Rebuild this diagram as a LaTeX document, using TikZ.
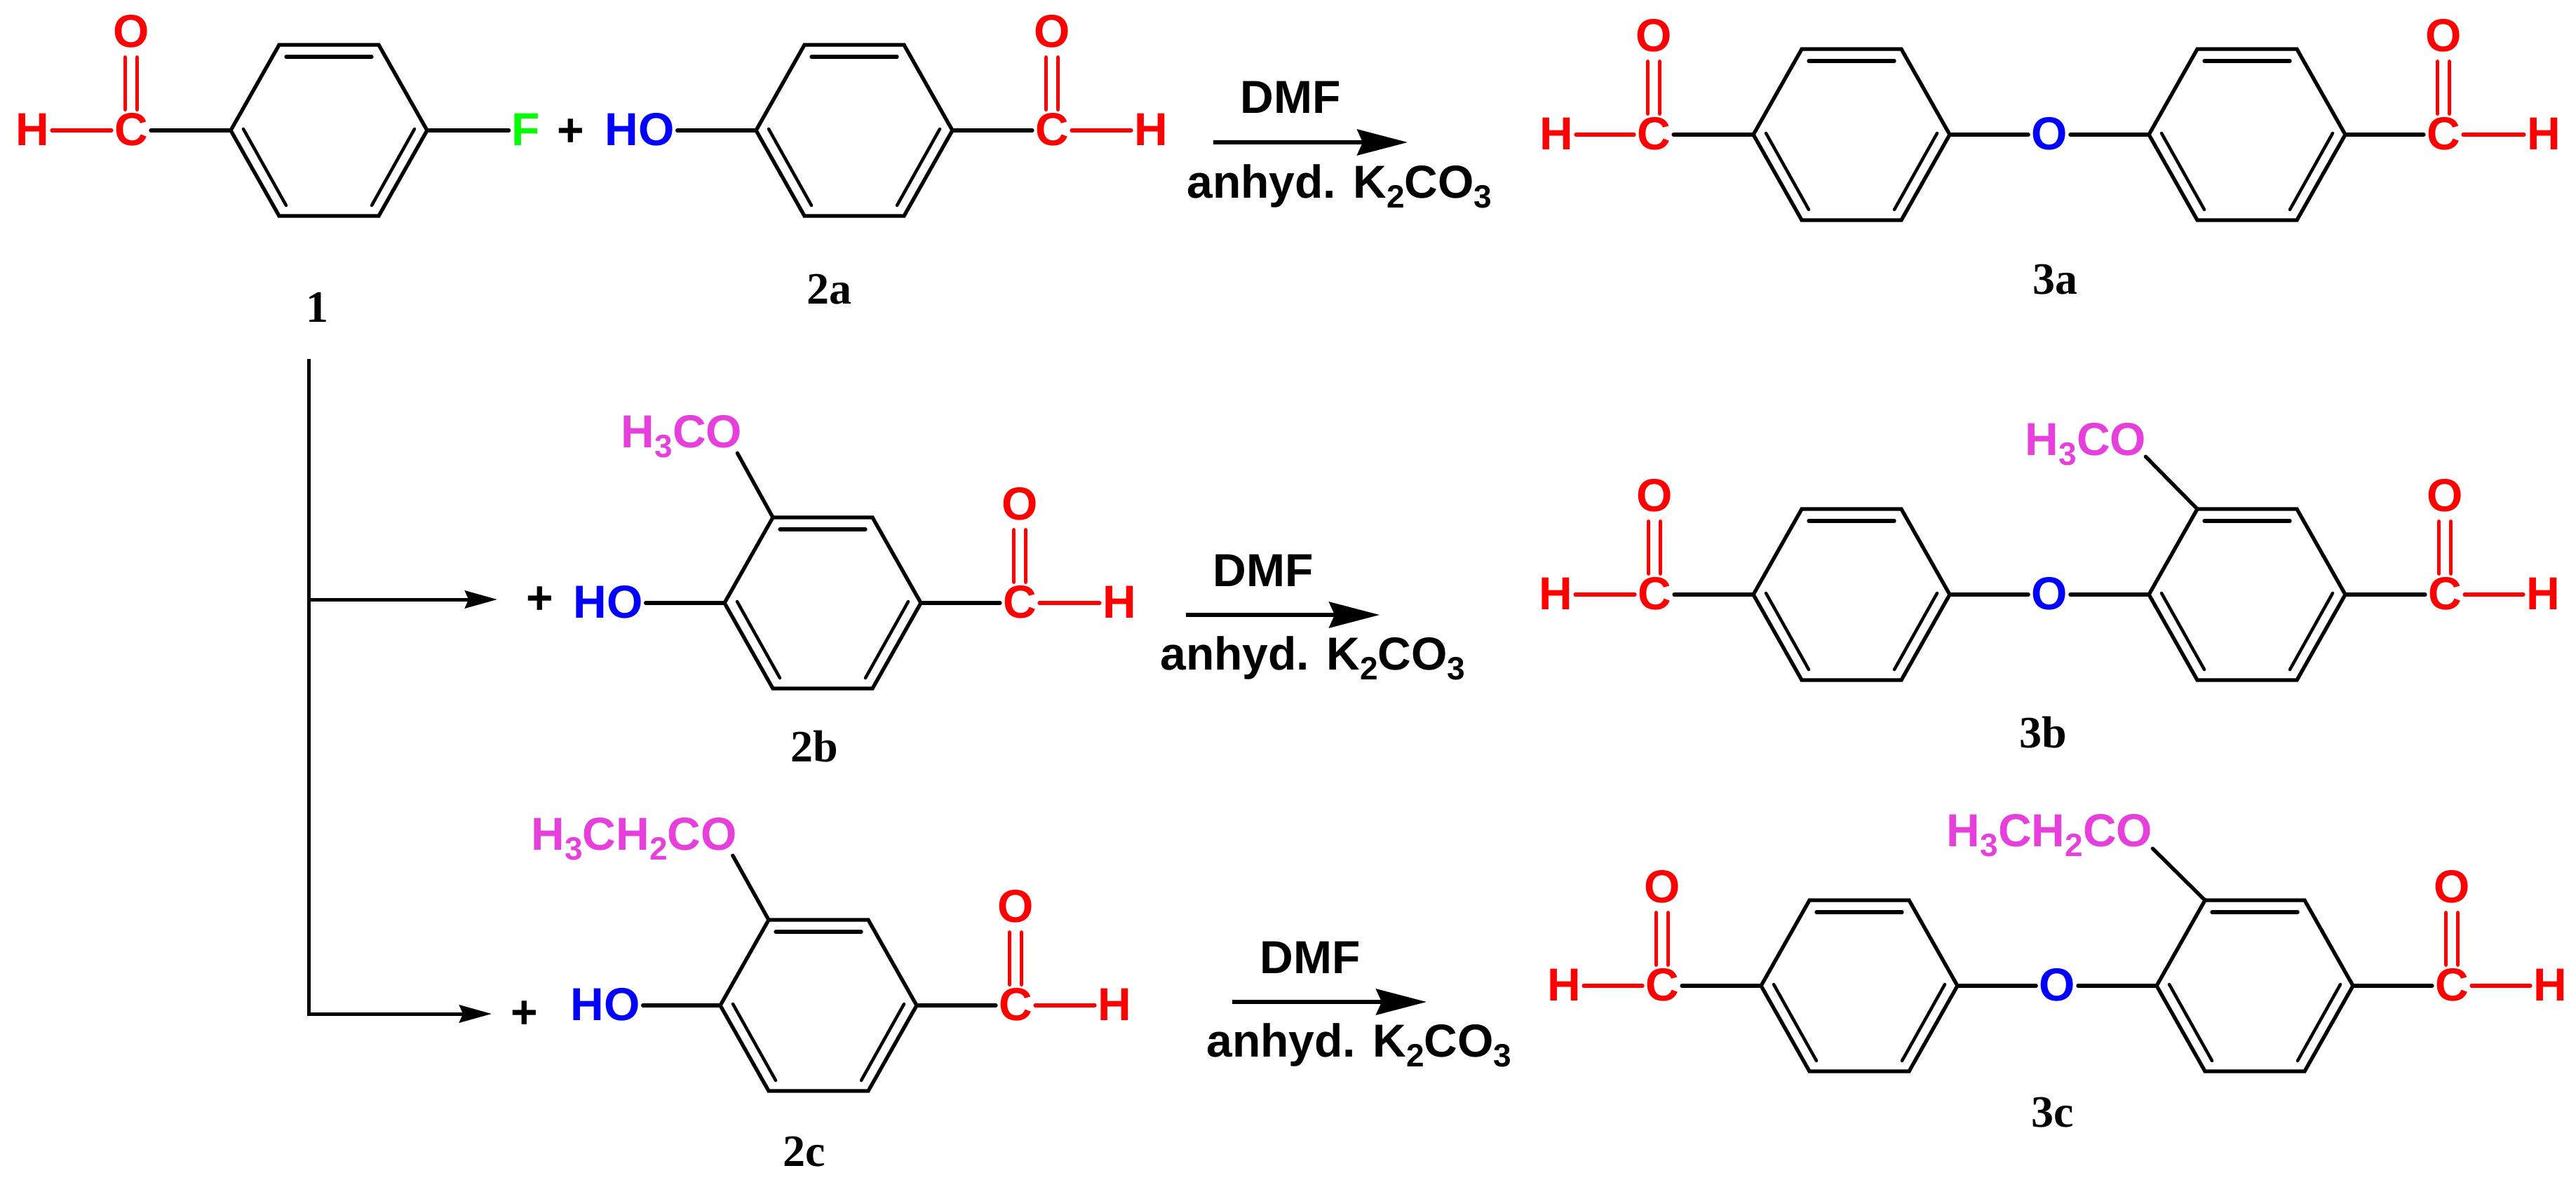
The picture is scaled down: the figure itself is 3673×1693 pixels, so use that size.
\documentclass[tikz,border=0pt]{standalone}
\usepackage{fontspec}
\setmainfont{Liberation Sans}
\newfontfamily\cmpdfont{Liberation Serif}
\usetikzlibrary{arrows.meta}
\definecolor{methoxy}{HTML}{E63FDC}
\newcommand{\chemsub}[1]{\raisebox{-14pt}{\fontsize{46}{46}\selectfont #1}}
\tikzset{
  atom/.style={font=\fontsize{66}{70}\selectfont\bfseries,inner sep=4pt,text height=47pt,text depth=4pt},
  cmpd/.style={font=\fontsize{64}{68}\selectfont\cmpdfont\bfseries,inner sep=0pt},
  bond/.style={line width=5.3pt,line cap=round},
  inner/.style={line width=4.5pt,line cap=round},
  dbl/.style={line width=5.3pt,line cap=round,red},
  reac/.style={line width=5.3pt,-{Stealth[length=72pt,width=37pt,inset=8pt]}},
  branch/.style={line width=5pt,-{Stealth[length=46pt,width=25pt,inset=5pt]}}
}

\begin{document}
\begin{tikzpicture}[x=1pt,y=-1pt]
    \useasboundingbox (0,0) rectangle (3673,1693);
    % benzene rings
    \foreach \nm/\cx/\cy in {ra/469/186,rb/1218/186,rc/1173/860,rd/1167/1434,
                             pa/2640/192,pb/3204/192,qa/2640/848,qb/3204/848,sa/2651/1406,sb/3215/1406} {
        \coordinate (\nm l) at (\cx-140,\cy);
        \coordinate (\nm tl) at (\cx-71,\cy-122);
        \coordinate (\nm tr) at (\cx+71,\cy-122);
        \coordinate (\nm r) at (\cx+140,\cy);
        \coordinate (\nm br) at (\cx+71,\cy+122);
        \coordinate (\nm bl) at (\cx-71,\cy+122);
        \draw[bond] (\nm l) -- (\nm tl) -- (\nm tr) -- (\nm r) -- (\nm br) -- (\nm bl) -- cycle;
        \draw[bond] ([shift={(10,17)}]\nm tl) -- ([shift={(-10,17)}]\nm tr);
        \draw[inner] ([shift={(18,-2)}]\nm l) -- ([shift={(10,-15)}]\nm bl);
        \draw[inner] ([shift={(-18,-2)}]\nm r) -- ([shift={(-10,-15)}]\nm br);
    }
    % aldehyde groups
    \foreach \nm/\cx/\cy/\hx/\rr in {ca/187/186/46/ral,cb/1500/186/1641/rbr,cc/1454/860/1596/rcr,cd/1448/1434/1589/rdr,
                                     ce/2358/192/2219/pal,cf/3484/192/3627/pbr,cg/2359/848/2218/qal,ch/3486/848/3626/qbr,
                                     ci/2370/1406/2230/sal,cj/3496/1406/3636/sbr} {
        \node[atom,red] (\nm c) at (\cx,\cy) {C};
        \node[atom,red] (\nm o) at (\cx,\cy-140) {O};
        \node[atom,red] (\nm h) at (\hx,\cy) {H};
        \draw[bond] (\rr) -- (\nm c);
        \draw[bond,red] (\nm c) -- (\nm h);
        \draw[dbl,shorten >=6pt] ([xshift=-8.5pt]\nm c.north) -- ([xshift=-8.5pt]\nm o.south);
        \draw[dbl,shorten >=6pt] ([xshift=8.5pt]\nm c.north) -- ([xshift=8.5pt]\nm o.south);
    }
    % ether bridges
    \foreach \nm/\cx/\cy/\ra/\rb in {oa/2922/192/par/pbl,ob/2922/848/qar/qbl,oc/2933/1406/sar/sbl} {
        \node[atom,blue] (\nm) at (\cx,\cy) {O};
        \draw[bond] (\ra) -- (\nm);
        \draw[bond] (\nm) -- (\rb);
    }
    % reactants
    \node[atom,green] (fl) at (750,186) {F};
    \draw[bond] (rar) -- (fl);
    \foreach \nm/\cx/\cy/\rr in {hoa/912/186/rbl,hob/867/860/rcl,hoc/863/1434/rdl} {
        \node[atom,blue] (\nm) at (\cx,\cy) {HO};
        \draw[bond] (\nm) -- (\rr);
    }
    \node[atom] (plusa) at (814,187) {+};
    \node[atom] (plusb) at (770,854) {+};
    \node[atom] (plusc) at (748,1445) {+};
    % alkoxy groups
    \node[atom,methoxy] (mea) at (972,616.5) {H\chemsub{3}CO};
    \node[atom,methoxy] (meb) at (904,1190.5) {H\chemsub{3}CH\chemsub{2}CO};
    \node[atom,methoxy] (mec) at (2974,627.5) {H\chemsub{3}CO};
    \node[atom,methoxy] (med) at (2922.5,1185.5) {H\chemsub{3}CH\chemsub{2}CO};
    \draw[bond] (rctl) -- ([xshift=-11pt]mea.south east);
    \draw[bond] (rdtl) -- ([xshift=-10pt]meb.south east);
    \draw[bond] (qbtl) -- ([xshift=-5pt,yshift=6pt]mec.south east);
    \draw[bond] (sbtl) -- ([xshift=-4pt,yshift=5pt]med.south east);
    % reaction arrows
    \foreach \nm/\xa/\xb/\ya/\xc/\yc/\xd/\yd in {a/1730/2007/203/1840/140.5/1910/261.5,
                                                 b/1691/1967/877/1801/815/1872/934,
                                                 c/1757/2034/1429/1868/1367/1938/1485.5} {
        \coordinate (st\nm) at (\xa,\ya);
        \coordinate (en\nm) at (\xb,\ya);
        \draw[reac] (st\nm) -- (en\nm);
        \node[atom] (dmf\nm) at (\xc,\yc) {DMF};
        \node[atom] (base\nm) at (\xd,\yd) {anhyd. K\chemsub{2}CO\chemsub{3}};
    }
    % branch from 1
    \coordinate (trtop) at (440,512);
    \coordinate (trmid) at (440,855);
    \coordinate (trbot) at (440,1446);
    \coordinate (tipb) at (709,855);
    \coordinate (tipc) at (701,1446);
    \draw[branch] (trtop) -- (trbot) -- (tipc);
    \draw[branch] (trmid) -- (tipb);
    % compound numbers
    \node[cmpd] (cone) at (452,438) {1};
    \node[cmpd] (ctwa) at (1182,413) {2a};
    \node[cmpd] (ctwb) at (1161,1065) {2b};
    \node[cmpd] (ctwc) at (1147,1643) {2c};
    \node[cmpd] (ctha) at (2930,399) {3a};
    \node[cmpd] (cthb) at (2913,1045) {3b};
    \node[cmpd] (cthc) at (2927,1587) {3c};
\end{tikzpicture}
\end{document}
